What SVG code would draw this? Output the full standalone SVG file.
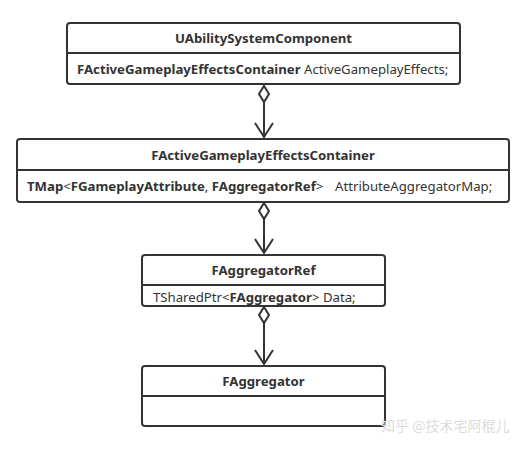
<svg xmlns="http://www.w3.org/2000/svg" width="523" height="450" viewBox="0 0 523 450">
<style>
.box{fill:#fff;stroke:#333;stroke-width:2}
.div{stroke:#333;stroke-width:2}
.t{font-family:"Noto Sans","Open Sans",sans-serif;font-size:13.2px;fill:#333}
.b{font-weight:bold}
.title{font-weight:bold;text-anchor:middle}
.edge{stroke:#333;stroke-width:2;fill:none}
.dia{fill:#fff;stroke:#333;stroke-width:2}
.wm{font-family:"Noto Sans CJK SC",sans-serif;font-size:14px;fill:#dcdcdc}
</style>
<rect width="523" height="450" fill="#fff"/>
<g id="connectors">
  <g id="e1">
    <line class="edge" x1="264" y1="102" x2="264" y2="137"/>
    <polyline class="edge" points="255,123 264,137 273,123"/>
    <polygon class="dia" points="264,86 269,94 264,102 259,94"/>
  </g>
  <g id="e2">
    <line class="edge" x1="264" y1="219" x2="264" y2="253"/>
    <polyline class="edge" points="255,239 264,253 273,239"/>
    <polygon class="dia" points="264,203 269,211 264,219 259,211"/>
  </g>
  <g id="e3">
    <line class="edge" x1="264" y1="323" x2="264" y2="364"/>
    <polyline class="edge" points="255,350 264,364 273,350"/>
    <polygon class="dia" points="264,307 269,315 264,323 259,315"/>
  </g>
</g>
<g id="UAbilitySystemComponent">
  <rect class="box" x="67" y="23" width="393" height="61" rx="3"/>
  <line class="div" x1="67" y1="53" x2="460" y2="53"/>
  <text class="t title" x="263.5" y="43">UAbilitySystemComponent</text>
  <text class="t" x="77" y="74"><tspan class="b">FActiveGameplayEffectsContainer</tspan> ActiveGameplayEffects;</text>
</g>
<g id="FActiveGameplayEffectsContainer">
  <rect class="box" x="17" y="139" width="492" height="63" rx="3"/>
  <line class="div" x1="17" y1="170" x2="509" y2="170"/>
  <text class="t title" x="263" y="160">FActiveGameplayEffectsContainer</text>
  <text class="t" x="27" y="191"><tspan class="b">TMap</tspan>&lt;<tspan class="b">FGameplayAttribute</tspan>, <tspan class="b">FAggregatorRef</tspan>&gt;</text>
  <text class="t" x="335" y="191">AttributeAggregatorMap;</text>
</g>
<g id="FAggregatorRef">
  <rect class="box" x="142" y="255" width="243" height="51" rx="3"/>
  <line class="div" x1="142" y1="285" x2="385" y2="285"/>
  <text class="t title" x="263.5" y="275">FAggregatorRef</text>
  <text class="t" x="153" y="302">TSharedPtr&lt;<tspan class="b">FAggregator</tspan>&gt; Data;</text>
</g>
<g id="FAggregator">
  <rect class="box" x="142" y="366" width="243" height="60" rx="3"/>
  <line class="div" x1="142" y1="396" x2="385" y2="396"/>
  <text class="t title" x="263.5" y="386">FAggregator</text>
</g>
<text class="wm" x="381" y="431">知乎 @技术宅阿棍儿</text>
</svg>
